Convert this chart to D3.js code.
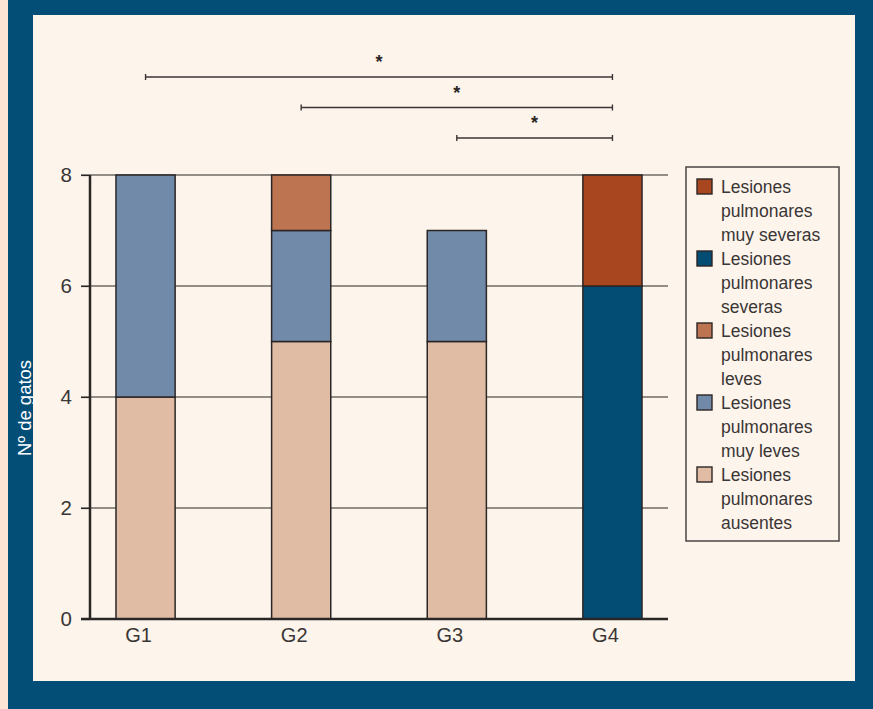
<!DOCTYPE html>
<html>
<head>
<meta charset="utf-8">
<script src="https://cdn.jsdelivr.net/npm/d3@7/dist/d3.min.js"></script>
<style>
  html, body { margin: 0; padding: 0; background: #034e77; }
  svg { display: block; }
  text { font-family: "Liberation Sans", Arial, Helvetica, sans-serif; }
</style>
</head>
<body>
<svg id="chart" width="873" height="709"></svg>
<script>
// Number of cats per lung-lesion grade in each group
const groups = ["G1", "G2", "G3", "G4"];
const ausentes   = [4, 5, 5, 0];
const muyLeves   = [4, 2, 2, 0];
const leves      = [0, 1, 0, 0];
const severas    = [0, 0, 0, 6];
const muySeveras = [0, 0, 0, 2];

// Stack order (bottom to top) and display names
const seriesKeys = ["ausentes", "muyLeves", "leves", "severas", "muySeveras"];
const seriesNames = {
  muySeveras: ["Lesiones", "pulmonares", "muy severas"],
  severas:    ["Lesiones", "pulmonares", "severas"],
  leves:      ["Lesiones", "pulmonares", "leves"],
  muyLeves:   ["Lesiones", "pulmonares", "muy leves"],
  ausentes:   ["Lesiones", "pulmonares", "ausentes"]
};
const seriesColors = {
  muySeveras: "#a8471f",
  severas:    "#034c74",
  leves:      "#bc7451",
  muyLeves:   "#728aa9",
  ausentes:   "#e0bca4"
};
const yTicks = [0, 2, 4, 6, 8];

// Significant pairwise comparisons
const comparisons = [
  { from: "G1", to: "G4", label: "*" },
  { from: "G2", to: "G4", label: "*" },
  { from: "G3", to: "G4", label: "*" }
];

const table = groups.map((g, i) => ({
  group: g,
  ausentes: ausentes[i], muyLeves: muyLeves[i], leves: leves[i],
  severas: severas[i], muySeveras: muySeveras[i]
}));

const svg = d3.select("#chart");
const W = 873, H = 709;

// Frame: blue border, thin peach strip on the left, cream panel
svg.append("rect").attr("width", W).attr("height", H).attr("fill", "#034e77");
svg.append("rect").attr("x", 0).attr("y", 0).attr("width", 8).attr("height", H).attr("fill", "#fde3d3");
svg.append("rect").attr("x", 33).attr("y", 15).attr("width", 822).attr("height", 666).attr("fill", "#fdf4eb");

const plot = { left: 90, right: 668, top: 175, bottom: 619 };

const x = d3.scaleBand()
  .domain(groups)
  .range([plot.left, plot.right])
  .paddingInner(0.62)
  .paddingOuter(0.167);

const y = d3.scaleLinear()
  .domain([0, 8])
  .range([plot.bottom, plot.top]);

const ink = "#2b2626";

// Gridlines with tick marks (behind bars)
const grid = svg.append("g");
grid.selectAll("line")
  .data(yTicks.filter(d => d > 0))
  .join("line")
  .attr("x1", plot.left - 9)
  .attr("x2", plot.right)
  .attr("y1", d => y(d))
  .attr("y2", d => y(d))
  .attr("stroke", ink)
  .attr("stroke-width", 1.2);

// Y tick labels
const yAxis = d3.axisLeft(y).tickValues(yTicks).tickSize(9).tickPadding(9).tickFormat(d3.format("d"));
const yG = svg.append("g").attr("transform", `translate(${plot.left},0)`).call(yAxis);
yG.select(".domain").remove();
yG.selectAll(".tick line").attr("stroke", ink).attr("stroke-width", 1.2);
yG.selectAll(".tick text")
  .attr("fill", "#3a3636")
  .attr("font-size", 20.5)
  .attr("font-family", "'Liberation Sans', Arial, sans-serif");

// Stacked bars
const stacked = d3.stack().keys(seriesKeys)(table);
svg.append("g")
  .selectAll("g")
  .data(stacked)
  .join("g")
  .attr("fill", d => seriesColors[d.key])
  .selectAll("rect")
  .data(d => d.filter(s => s[1] - s[0] > 0))
  .join("rect")
  .attr("x", d => x(d.data.group))
  .attr("width", x.bandwidth())
  .attr("y", d => y(d[1]))
  .attr("height", d => y(d[0]) - y(d[1]))
  .attr("stroke", ink)
  .attr("stroke-width", 1.5);

// Axis lines
svg.append("line")
  .attr("x1", plot.left).attr("x2", plot.left)
  .attr("y1", y(8)).attr("y2", y(0) + 1)
  .attr("stroke", ink).attr("stroke-width", 2.5);
svg.append("line")
  .attr("x1", plot.left - 9).attr("x2", plot.right)
  .attr("y1", y(0)).attr("y2", y(0))
  .attr("stroke", ink).attr("stroke-width", 2.5);

// X labels
const xAxis = d3.axisBottom(x).tickSize(0).tickPadding(0);
const xG = svg.append("g").attr("transform", `translate(-7,${plot.bottom})`).call(xAxis);
xG.select(".domain").remove();
xG.selectAll(".tick text")
  .attr("y", 23)
  .attr("dy", 0)
  .attr("fill", "#3a3636")
  .attr("font-size", 20)
  .attr("font-family", "'Liberation Sans', Arial, sans-serif");

// Y axis title on the border
svg.append("text")
  .attr("transform", `translate(30.5,408) rotate(-90)`)
  .attr("text-anchor", "middle")
  .attr("fill", "#ffffff")
  .attr("font-size", 18.5)
  .text("Nº de gatos");

// Significance brackets
const sig = svg.append("g");
comparisons.forEach((c, i) => {
  const ly = 77 + i * 30.5;
  const x1 = x(c.from) + x.bandwidth() / 2;
  const x2 = x(c.to) + x.bandwidth() / 2;
  const g = sig.append("g").attr("stroke", "#3a3434").attr("stroke-width", 1.4);
  g.append("line").attr("x1", x1).attr("x2", x2).attr("y1", ly).attr("y2", ly);
  g.append("line").attr("x1", x1).attr("x2", x1).attr("y1", ly - 3).attr("y2", ly + 3);
  g.append("line").attr("x1", x2).attr("x2", x2).attr("y1", ly - 3).attr("y2", ly + 3);
  sig.append("text")
    .attr("x", (x1 + x2) / 2)
    .attr("y", ly - 9)
    .attr("text-anchor", "middle")
    .attr("fill", "#2b2626")
    .attr("font-size", 18)
    .attr("font-weight", "bold")
    .text(c.label);
});

// Legend
const legendKeys = seriesKeys.slice().reverse();
const legend = svg.append("g");
legend.append("rect")
  .attr("x", 686).attr("y", 167)
  .attr("width", 153).attr("height", 374)
  .attr("fill", "#fdf4eb")
  .attr("stroke", "#4a4444")
  .attr("stroke-width", 1.5);
legendKeys.forEach((k, i) => {
  const top = 179 + i * 72;
  legend.append("rect")
    .attr("x", 697).attr("y", top)
    .attr("width", 15).attr("height", 15)
    .attr("fill", seriesColors[k])
    .attr("stroke", ink)
    .attr("stroke-width", 1.4);
  seriesNames[k].forEach((line, j) => {
    legend.append("text")
      .attr("x", 721)
      .attr("y", top + 14 + j * 24)
      .attr("fill", "#3a3636")
      .attr("font-size", 17.5)
      .text(line);
  });
});
</script>
</body>
</html>
